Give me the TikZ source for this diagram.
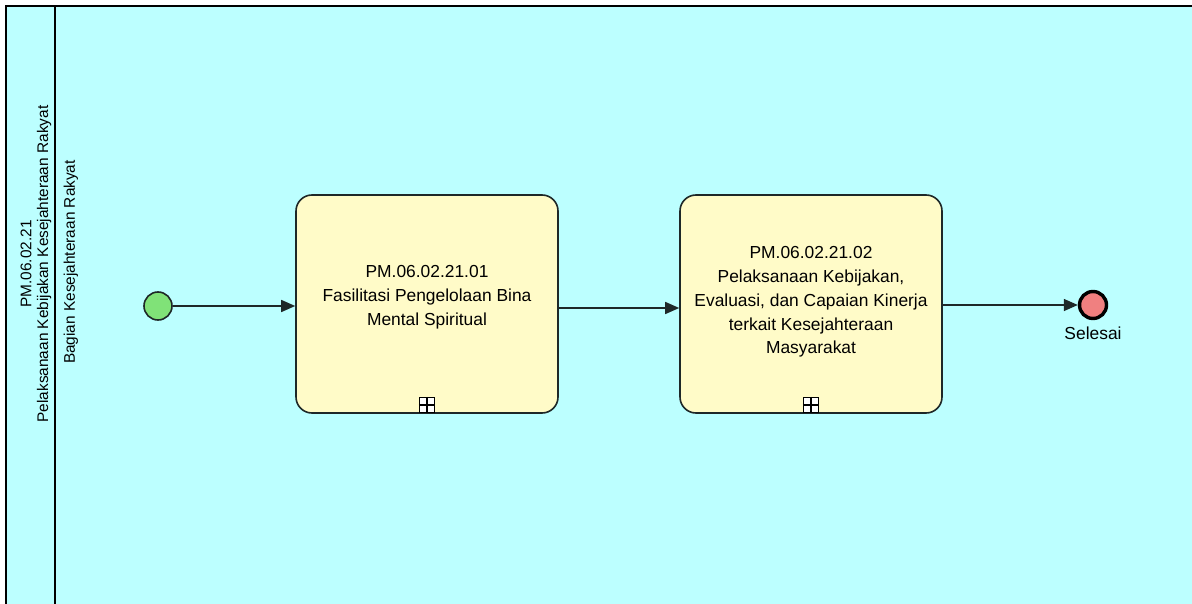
\documentclass[tikz,border=0pt]{standalone}
\usepackage{fontspec}
\setmainfont{Liberation Sans}
\usetikzlibrary{arrows.meta}
\definecolor{poolbg}{RGB}{188,255,255}
\definecolor{taskfill}{RGB}{255,251,200}
\definecolor{startfill}{RGB}{128,226,120}
\definecolor{endfill}{RGB}{240,128,128}
\definecolor{edge}{RGB}{30,40,40}
\tikzset{
  taskbox/.style={draw=edge, line width=0.8pt, fill=taskfill, rounded corners=8pt,
    minimum width=131pt, minimum height=109pt, inner sep=0pt},
  tasktext/.style={align=center, inner sep=0pt, font=\fontsize{8.7}{11.9}\selectfont},
  startev/.style={circle, draw=edge, line width=0.8pt, fill=startfill, minimum size=14pt, inner sep=0pt},
  endev/.style={circle, draw=black, line width=1.7pt, fill=endfill, minimum size=13.5pt, inner sep=0pt},
  flow/.style={draw=edge, line width=0.7pt, -{Triangle[length=7pt,width=6pt]}},
  expmark/.style={draw=black, line width=0.6pt, fill=white, minimum size=7.5pt, inner sep=0pt},
  lbl/.style={font=\fontsize{8.7}{11.5}\selectfont, align=center, inner sep=0pt},
  poollbl/.style={font=\fontsize{7.7}{8.4}\selectfont, align=center, inner sep=0pt, rotate=90}
}
\begin{document}
\begin{tikzpicture}[x=0.5pt,y=-0.5pt]
\useasboundingbox (0,0) rectangle (1192,604);
\fill[white] (0,0) rectangle (1192,604);
\fill[poolbg] (6,6) rectangle (1200,610);
\draw[black, line width=1.1pt] (1200,6) -- (6,6) -- (6,610);
\draw[black, line width=1.1pt] (55,6) -- (55,610);
\node[poollbl] (pool) at (36,264) {PM.06.02.21\\Pelaksanaan Kebijakan Kesejahteraan Rakyat};
\node[poollbl] (lane) at (71,262) {Bagian Kesejahteraan Rakyat};

\coordinate (fy) at (0,308);
\node[startev] (start) at (158,306) {};
\node[taskbox] (t1) at (427,304) {};
\node[tasktext, yshift=3.5pt] (t1txt) at (t1.center) {PM.06.02.21.01\\Fasilitasi Pengelolaan Bina\\Mental Spiritual};
\node[taskbox] (t2) at (811,304) {};
\node[tasktext, yshift=1pt] (t2txt) at (t2.center) {PM.06.02.21.02\\Pelaksanaan Kebijakan,\\Evaluasi, dan Capaian Kinerja\\terkait Kesejahteraan\\Masyarakat};
\node[endev] (end) at (1093,305) {};
\node[lbl, anchor=north, yshift=-3pt] (endlbl) at (end.south) {Selesai};

\node[expmark, anchor=south, yshift=0.4pt] (m1) at (t1.south) {};
\draw[black, line width=0.6pt] (m1.north) -- (m1.south) (m1.west) -- (m1.east);
\node[expmark, anchor=south, yshift=0.4pt] (m2) at (t2.south) {};
\draw[black, line width=0.6pt] (m2.north) -- (m2.south) (m2.west) -- (m2.east);

\draw[flow] (start.east) -- (start.east -| t1.west);
\draw[flow] (t1.east |- fy) -- (t2.west |- fy);
\draw[flow] (t2.east |- end.west) -- (end.west);
\end{tikzpicture}
\end{document}
